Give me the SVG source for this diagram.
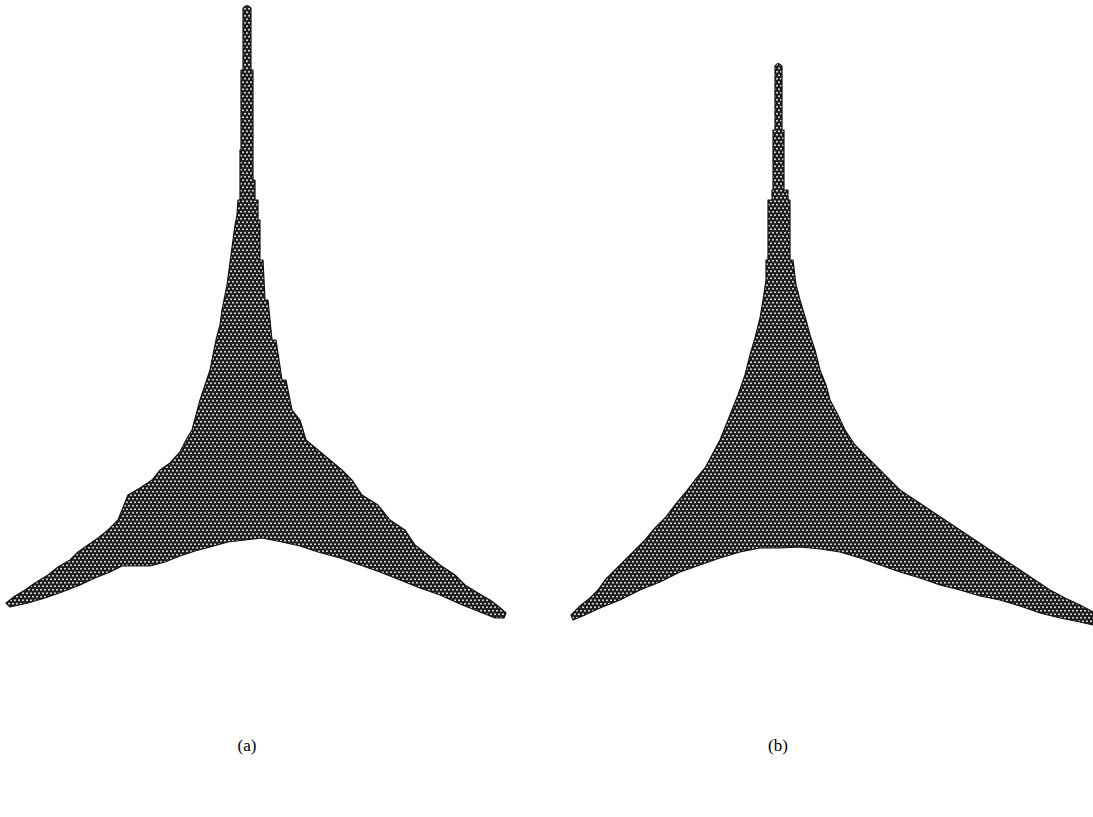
<svg xmlns="http://www.w3.org/2000/svg" width="1093" height="817" viewBox="0 0 1093 817">
<defs>
<pattern id="hex" width="4" height="7" patternUnits="userSpaceOnUse">
<rect width="4" height="7" fill="#1c1c1c"/>
<circle cx="1" cy="1.75" r="0.95" fill="#f2f2f2"/>
<circle cx="3" cy="5.25" r="0.95" fill="#f2f2f2"/>
</pattern>
<style>
.shape{fill:url(#hex);stroke:#111;stroke-width:1.2;stroke-linejoin:round}
.lbl{font-family:"Liberation Serif",serif;font-size:17px;fill:#000;text-anchor:middle}
</style>
</defs>
<rect width="1093" height="817" fill="#fff"/>
<g id="shape-a">
<path class="shape" d="M243,8 Q247,3 251,8 L251,70 L253,70 L253,180 L255,180 L255,200 L258,200 L258,220 L260,220 L260,260 L263,260 L265,300 L268,300 L272,340 L276,340 L282,380 L286,380 L292,410 L300,420 L306,440 L318,450 L330,460 L342,470 L352,480 L362,495 L378,505 L390,520 L405,530 L415,545 L428,555 L440,565 L455,575 L465,585 L478,593 L490,600 L498,606 L506,613 L504,618 L495,618 L480,612 L460,604 L440,595 L420,588 L400,580 L380,572 L360,565 L340,558 L318,552 L300,546 L282,542 L262,538 L245,540 L228,542 L210,547 L195,551 L180,556 L165,562 L150,566 L135,566 L122,566 L110,572 L95,578 L80,585 L62,592 L45,598 L28,603 L10,607 L6,603 L15,596 L25,590 L35,583 L48,575 L58,567 L70,560 L78,552 L88,545 L98,538 L108,530 L118,520 L124,505 L128,495 L140,488 L152,480 L160,470 L170,463 L180,452 L186,440 L192,430 L196,415 L200,400 L205,385 L210,370 L213,355 L216,340 L220,325 L222,310 L224,300 L227,285 L229,270 L231,255 L233,240 L235,225 L237,215 L238,200 L240,200 L240,150 L241,150 L241,70 L243,70 Z"/>
</g>
<g id="shape-b">
<path class="shape" d="M775,66 Q778,61 782,66 L782,130 L784,130 L784,190 L788,190 L788,200 L790,200 L790,260 L793,260 L796,285 L800,300 L806,320 L810,335 L815,350 L820,370 L826,385 L830,400 L838,415 L845,430 L855,445 L870,460 L885,475 L900,490 L915,500 L930,510 L945,520 L960,530 L975,540 L990,550 L1005,560 L1020,570 L1035,580 L1050,590 L1065,598 L1080,605 L1093,612 L1093,625 L1080,622 L1060,618 L1040,613 L1020,606 L1000,600 L980,596 L960,590 L940,585 L920,578 L900,572 L880,565 L860,558 L840,552 L820,549 L800,547 L780,548 L760,548 L740,552 L720,558 L700,565 L680,572 L660,582 L640,590 L620,600 L600,608 L585,615 L573,620 L571,615 L580,606 L590,598 L598,590 L605,580 L615,570 L625,560 L635,550 L645,540 L655,528 L665,518 L675,505 L685,493 L695,480 L705,468 L712,455 L720,440 L726,425 L732,410 L738,395 L745,375 L750,355 L755,338 L760,318 L763,300 L766,280 L766,260 L768,260 L768,200 L772,200 L772,190 L773,190 L773,130 L775,130 Z"/>
</g>
<text class="lbl" x="247" y="751">(a)</text>
<text class="lbl" x="778" y="751">(b)</text>
</svg>
